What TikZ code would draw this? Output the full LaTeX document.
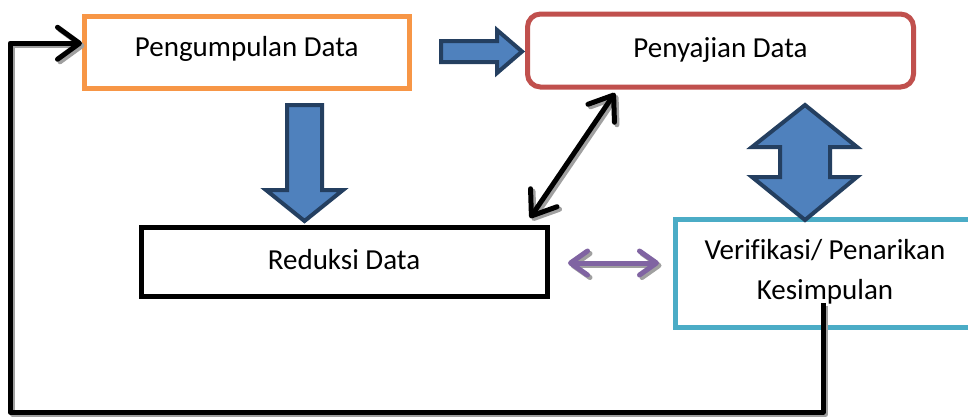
\documentclass[tikz,border=0pt]{standalone}
\usepackage{fontspec}
\setmainfont{Carlito}[Ligatures={NoCommon}]
\usetikzlibrary{arrows.meta}
\definecolor{orng}{HTML}{F79646}
\definecolor{redb}{HTML}{C0504D}
\definecolor{cyanb}{HTML}{4BACC6}
\definecolor{bfill}{HTML}{4F81BD}
\definecolor{bline}{HTML}{243F60}
\definecolor{purp}{HTML}{8064A2}
\definecolor{shad}{HTML}{A0A0A0}
\begin{document}
\begin{tikzpicture}[x=1pt,y=-1pt,
  box/.style={draw,line width=5pt,inner sep=0pt,fill=white},
  lbl/.style={font=\fontsize{29}{40}\selectfont,anchor=base,inner sep=0pt,align=center},
  blockarrow/.style={fill=bfill,draw=bline,line width=4pt,line join=miter,miter limit=10},
  conn/.style={line width=5pt,line join=round},
  barb/.tip={Straight Barb[length=22pt,width=32pt,line cap=round,line join=round]},
  pbarb/.tip={Straight Barb[length=17pt,width=24pt,line cap=round,line join=round]},
  shadowed/.style={transform canvas={shift={(2.5,2.5)}}}]
\useasboundingbox (0,0) rectangle (968,416);
\clip (0,0) rectangle (968,416);
\fill[white] (0,0) rectangle (968,416);

% boxes
\node[box,draw=orng,minimum width=324.5pt,minimum height=72.5pt] (peng) at (246.75,52.25) {};
\node[box,draw=redb,rounded corners=13pt,minimum width=386pt,minimum height=73pt] (peny) at (720.5,50.5) {};
\node[box,draw=black,minimum width=406pt,minimum height=69pt] (redu) at (344,261.5) {};
\node[box,draw=cyanb,minimum width=300pt,minimum height=108pt] (veri) at (825,273) {};

% labels
\node[lbl] (pengt) at (246.75,56) {Pengumpulan Data};
\node[lbl] (penyt) at (720.5,57) {Penyajian Data};
\node[lbl] (redut) at (344,269) {Reduksi Data};
\node[lbl] (verit) at (825,259) {Verifikasi/ Penarikan};
\node[lbl] (verit2) at (825,299) {Kesimpulan};

% block arrows
\draw[blockarrow] (441,41) -- (497,41) -- (497,30) -- (522,51.5) -- (497,73) -- (497,62) -- (441,62) -- cycle;
\draw[blockarrow] (287,105) -- (322,105) -- (322,190) -- (343,190) -- (304.5,221) -- (266,190) -- (287,190) -- cycle;
\draw[blockarrow] (805,105) -- (857,147) -- (830,147) -- (830,177) -- (857,177) -- (805,220) -- (752,177) -- (780,177) -- (780,147) -- (752,147) -- cycle;

% connectors
\coordinate (fbstart) at (823,303);
\coordinate (fbcorner) at (10,412);
\coordinate (d1) at (530,218);
\coordinate (d2) at (615,93);
\coordinate (p1) at (568,263);
\coordinate (p2) at (659,263);

\begin{scope}[shadowed]
\draw[conn,shad,-{barb}] (fbstart) |- (fbcorner) |- ([yshift=9pt]peng.west);
\draw[conn,shad,{barb}-{barb}] (d1) -- (d2);
\draw[conn,shad,{pbarb}-{pbarb}] (p1) -- (p2);
\end{scope}
\draw[conn,black,-{barb}] (fbstart) |- (fbcorner) |- ([yshift=9pt]peng.west);
\draw[conn,black,{barb}-{barb}] (d1) -- (d2);
\draw[conn,purp,{pbarb}-{pbarb}] (p1) -- (p2);
\end{tikzpicture}
\end{document}
